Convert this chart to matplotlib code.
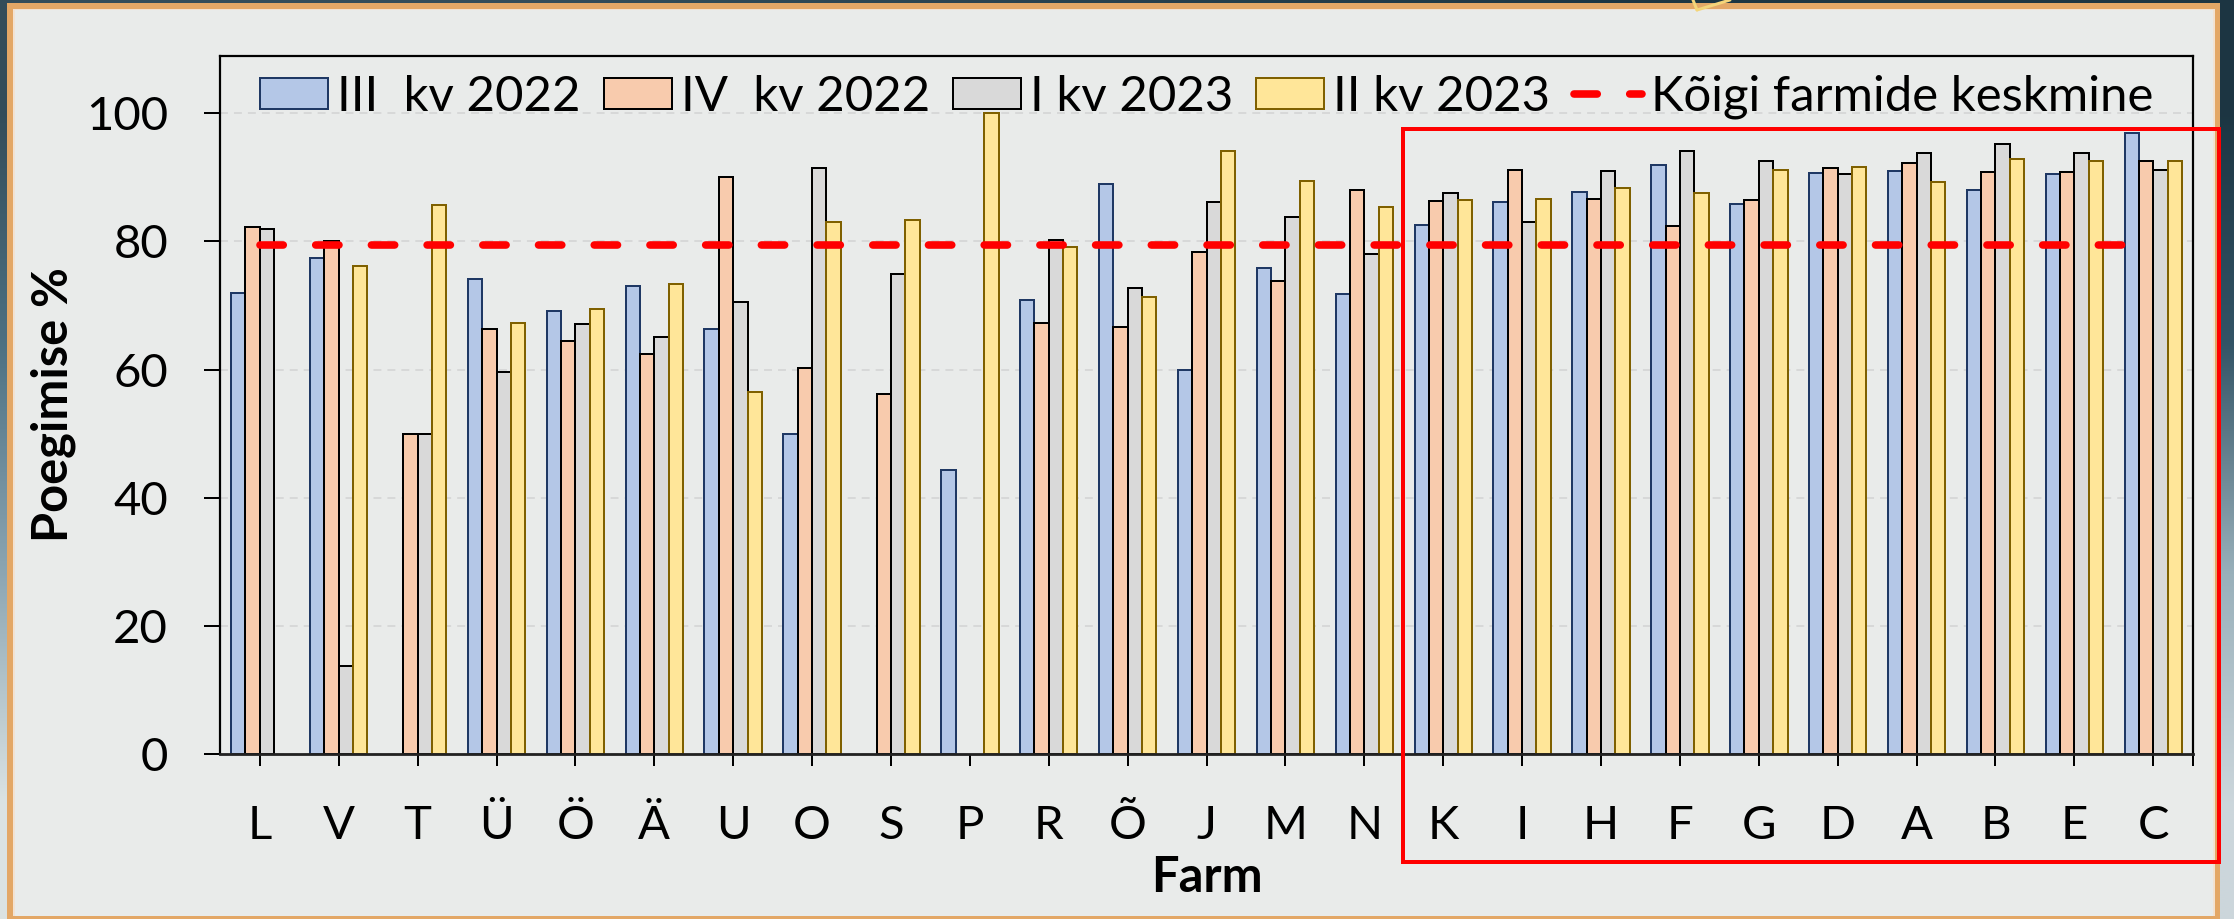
import numpy as np
import matplotlib
matplotlib.use("Agg")
import matplotlib.pyplot as plt
from matplotlib.patches import Rectangle

plt.rcParams['font.family'] = ['Lato', 'DejaVu Sans']

# ---- data -------------------------------------------------------------
farms = ["L", "V", "T", "Ü", "Ö", "Ä", "U", "O", "S", "P", "R", "Õ", "J",
         "M", "N", "K", "I", "H", "F", "G", "D", "A", "B", "E", "C"]
nan = np.nan
q3_2022 = [72.0, 77.5, nan, 74.1, 69.1, 73.1, 66.4, 50.0, nan, 44.4, 70.9, 88.9, 59.9,
           75.9, 71.8, 82.6, 86.2, 87.8, 92.0, 85.9, 90.7, 91.0, 88.1, 90.6, 96.9]
q4_2022 = [82.2, 80.0, 50.0, 66.3, 64.5, 62.5, 90.0, 60.3, 56.2, nan, 67.3, 66.6, 78.4,
           73.8, 88.1, 86.3, 91.2, 86.7, 82.4, 86.5, 91.4, 92.3, 90.9, 90.9, 92.6]
q1_2023 = [81.9, 13.7, 50.0, 59.6, 67.1, 65.1, 70.5, 91.4, 75.0, nan, 80.2, 72.7, 86.1,
           83.9, 78.0, 87.5, 83.1, 91.0, 94.1, 92.6, 90.5, 93.8, 95.2, 93.8, 91.2]
q2_2023 = [nan, 76.2, 85.7, 67.2, 69.5, 73.4, 56.5, 83.1, 83.3, 100.0, 79.2, 71.4, 94.1,
           89.4, 85.4, 86.5, 86.6, 88.4, 87.5, 91.1, 91.6, 89.3, 92.8, 92.6, 92.5]
overall_mean = 79.4

series_labels = ["III  kv 2022", "IV  kv 2022", "I kv 2023", "II kv 2023"]
mean_label = "Kõigi farmide keskmine"
y_ticks = [0, 20, 40, 60, 80, 100]

# ---- styling ----------------------------------------------------------
fills = ["#B4C7E7", "#F8CBAD", "#D9D9D9", "#FFE699"]
edges = ["#1F3864", "#000000", "#000000", "#7F6000"]
panel = "#E9EBEA"

W, H, DPI = 2234, 919, 100
px = 72.0 / DPI  # points per pixel

fig = plt.figure(figsize=(W / DPI, H / DPI), dpi=DPI)
renderer = fig.canvas.get_renderer()


def size_for_width(text, target_px, weight="normal", base=30.0):
    """Font size (pt) at which `text` renders `target_px` pixels wide."""
    t = fig.text(0, 0, text, fontsize=base, fontweight=weight)
    w = t.get_window_extent(renderer).width
    t.remove()
    return base * target_px / w


# backdrop: photo-like gradient, orange frame and light panel
bg = fig.add_axes([0, 0, 1, 1], zorder=0)
bg.set_xlim(0, W)
bg.set_ylim(H, 0)
bg.axis("off")
left_col = np.array([[0.20, 0.30, 0.35], [0.30, 0.44, 0.51],
                     [0.55, 0.65, 0.70], [0.86, 0.89, 0.89]])
right_col = np.array([[0.11, 0.21, 0.26], [0.20, 0.33, 0.40],
                      [0.60, 0.69, 0.73], [0.80, 0.84, 0.86]])
grad = np.stack([left_col, right_col], axis=1)
bg.imshow(grad, extent=(0, W, H, 0), aspect="auto", interpolation="bilinear")
bg.add_patch(Rectangle((7, 3), 2213, 930, facecolor="#E3A766", edgecolor="none"))
bg.add_patch(Rectangle((13, 9), 2202, 907, facecolor="#F2E2D2", edgecolor="none"))
bg.add_patch(Rectangle((15, 10), 2198, 906, facecolor=panel, edgecolor="none"))
bg.plot([1697, 1693], [10, 0], color="#F4D57A", lw=3 * px, solid_capstyle="round")
bg.plot([1697, 1730], [10, 0], color="#F4D57A", lw=3 * px, solid_capstyle="round")

# main chart
left, right, top, bottom = 220.4, 2192.7, 55.7, 754.0
ax = fig.add_axes([left / W, (H - bottom) / H, (right - left) / W, (bottom - top) / H],
                  zorder=1)
ax.set_facecolor(panel)

x = np.arange(len(farms))
width = 0.182
series = [q3_2022, q4_2022, q1_2023, q2_2023]
handles = []
for i, vals in enumerate(series):
    b = ax.bar(x + (i - 1.5) * width, vals, width, color=fills[i],
               edgecolor=edges[i], linewidth=2 * px, label=series_labels[i], zorder=2)
    handles.append(b)

lw_mean = 7.6 * px
(mean_line,) = ax.plot(x, np.full(len(farms), overall_mean), color="#FF0000",
                       lw=lw_mean, dashes=(3.06, 4.27), dash_capstyle="round",
                       label=mean_label, zorder=3)
handles.append(mean_line)

ax.set_xlim(-0.5, len(farms) - 0.5)
ax.set_ylim(0, 109)
ax.set_yticks(y_ticks)
ax.set_xticks(x)
ax.set_xticklabels(farms)
ax.set_xticks([len(farms) - 0.5], minor=True)

ax.yaxis.grid(True, color="#D2D3D3", linestyle=(0, (5.3, 4.0)),
              linewidth=1.5 * px, zorder=0)
ax.set_axisbelow(True)

for s in ax.spines.values():
    s.set_linewidth(2.2 * px)
    s.set_color("black")
ax.spines["bottom"].set_linewidth(2.8 * px)
ax.spines["bottom"].set_color("#222222")

tick_size = 34
ax.tick_params(axis="y", direction="out", length=16 * px, width=2 * px,
               pad=(52.4 - 16) * px, labelsize=tick_size)
ax.tick_params(axis="x", which="both", direction="out", length=12 * px, width=2 * px,
               pad=(85.3 - 12) * px, labelsize=tick_size)
for lab in ax.get_xticklabels():
    lab.set_va("baseline")

title_size = size_for_width("Poegimise %", 275, weight="bold")
ax.set_ylabel("Poegimise %", fontsize=title_size, fontweight="bold",
              va="baseline", rotation_mode="anchor")
ax.yaxis.set_label_coords((67 - left) / (right - left), 0.5)
ax.set_xlabel("Farm", fontsize=title_size, fontweight="bold", va="baseline")
ax.xaxis.set_label_coords(0.5, (bottom - 892) / (bottom - top))

# legend: one row spanning from x=260 px to x=2153 px
leg_size = size_for_width(mean_label, 502)
leg_px = leg_size / px
leg_kw = dict(loc="center left",
              bbox_to_anchor=((260 - left) / (right - left), (bottom - 97) / (bottom - top)),
              ncol=5, frameon=False, fontsize=leg_size, handlelength=68 / leg_px,
              handleheight=29 / leg_px, handletextpad=9 / leg_px, borderpad=0,
              borderaxespad=0)
spacing = 0.8
leg = ax.legend(handles=handles, columnspacing=spacing, **leg_kw)
span = leg.get_window_extent(renderer).width
spacing += (2153 - 260 - span) / 4 / leg_px
leg.remove()
leg = ax.legend(handles=handles, columnspacing=spacing, **leg_kw)

# highlight box around the best-performing farms
ov = fig.add_axes([0, 0, 1, 1], zorder=5)
ov.set_xlim(0, W)
ov.set_ylim(H, 0)
ov.axis("off")
ov.patch.set_alpha(0)
ov.add_patch(Rectangle((1403, 129), 2219 - 1403, 862 - 129, fill=False,
                       edgecolor="#FF0000", linewidth=4 * px))

fig.savefig("out.png", dpi=DPI, facecolor=fig.get_facecolor())
